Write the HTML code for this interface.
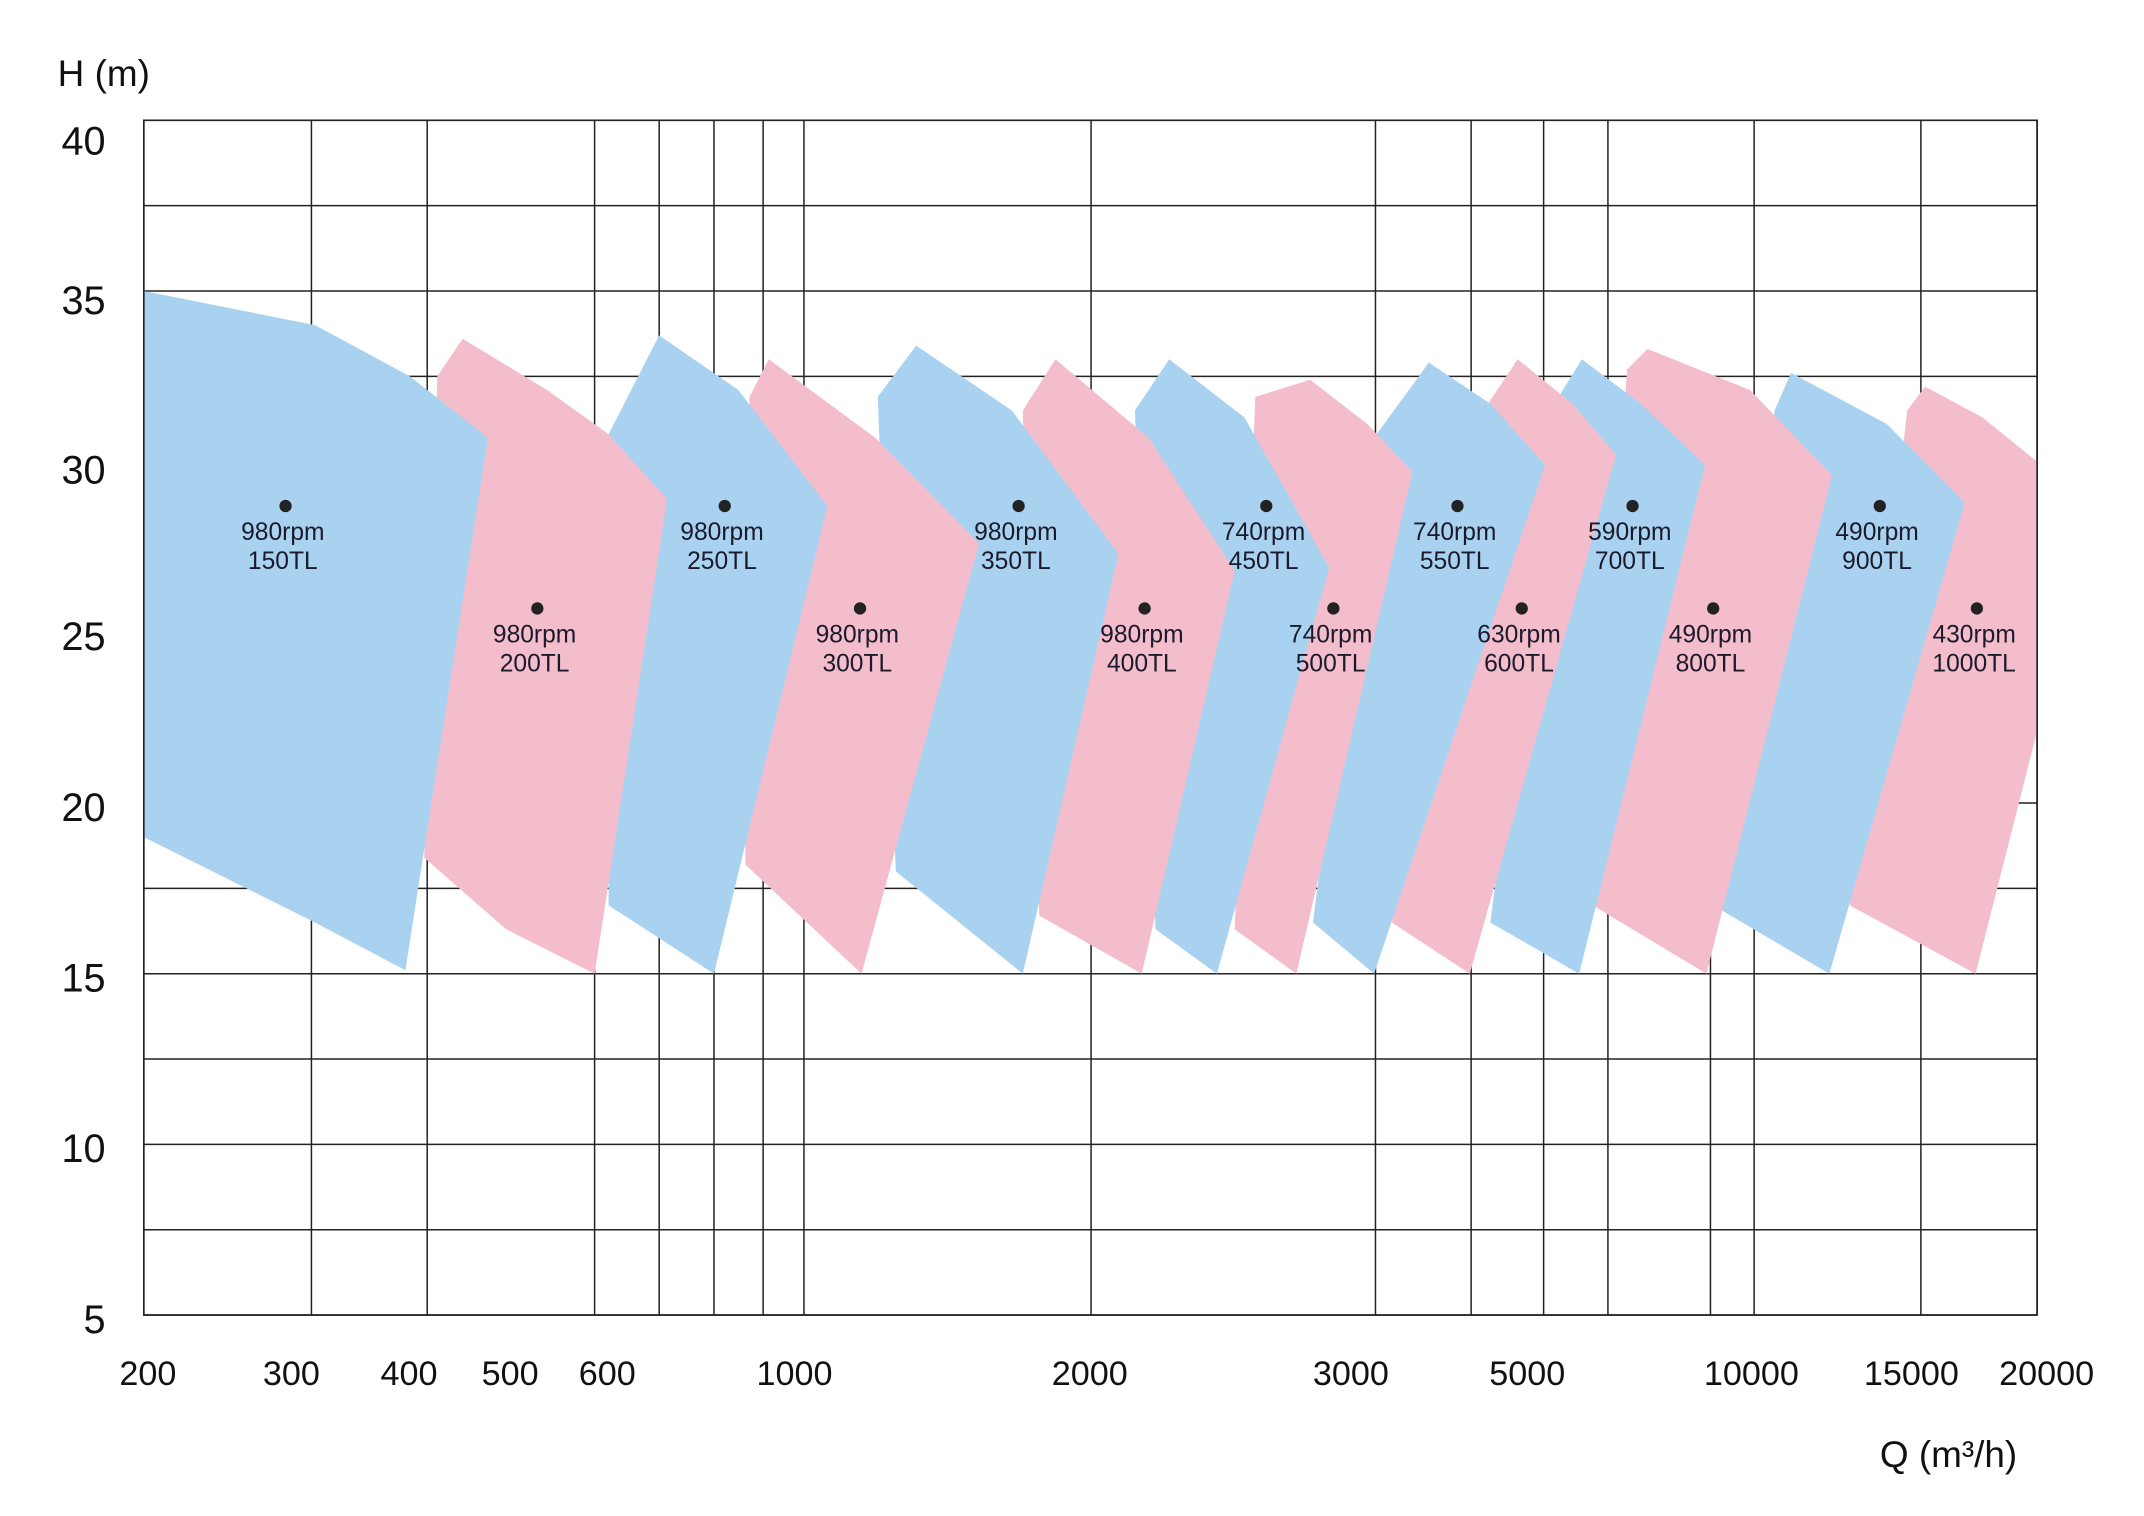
<!DOCTYPE html>
<html><head><meta charset="utf-8"><style>
html,body{margin:0;padding:0;background:#fff;}
svg{display:block;font-family:"Liberation Sans",sans-serif;}
</style></head><body>
<svg id="chart" width="2144" height="1516" viewBox="0 0 1568 1109" xmlns="http://www.w3.org/2000/svg">
<rect width="1568" height="1109" fill="#fff"/>
<g id="grid"></g>
<g id="shapes"></g>
<g id="labels"></g>
<g id="axes"></g>
<text x="42" y="63" font-size="27" fill="#111">H (m)</text>
<text x="1375" y="1073" font-size="27" fill="#111">Q (m³/h)</text>
</svg>
<script>
const NS="http://www.w3.org/2000/svg";
// x-axis knots (non-uniform axis)
const knotQ=[200,300,400,500,600,1000,2000,3000,5000,10000,15000,20000];
const knotPx=[105,213,299,373,444,581,797,988,1117,1281,1398,1490];
const yTicks=[5,10,15,20,25,30,35,40];
const xTickLabels=[200,300,400,500,600,1000,2000,3000,5000,10000,15000,20000];
const hGridValues=[5,7.5,10,12.5,15,17.5,20,22.5,25,27.5,30,32.5,35,37.5,40];
const vGridQ=[200,317,418,587,711,828,933,1032,2005,3279,4364,5366,6800,10085,15380,20000];
const partialGridQ=[9087];

const names=["150TL","200TL","250TL","300TL","350TL","400TL","450TL","500TL","550TL","600TL","700TL","800TL","900TL","1000TL"];
const rpms=["980rpm","980rpm","980rpm","980rpm","980rpm","980rpm","740rpm","740rpm","740rpm","630rpm","590rpm","490rpm","490rpm","430rpm"];
const kinds=["blue","pink","blue","pink","blue","pink","blue","pink","blue","pink","blue","pink","blue","pink"];
const labelQ=[296,528,851,1222,1759,2210,2676,2933,4209,4938,7349,9148,14014,17606];
const labelH=[28.7,25.7,28.7,25.7,28.7,25.7,28.7,25.7,28.7,25.7,28.7,25.7,28.7,25.7];
const shapeQ=[
 [200,320,401,478,397,320,200],
 [453,538,603,728,587,496,415,428],
 [711,880,1111,828,603,603],
 [945,1273,1625,1227,895,904],
 [1412,1736,2110,1773,1343,1282],
 [1884,2225,2555,2199,1829,1773],
 [2304,2592,2917,2487,2252,2173],
 [2844,3186,3698,2791,2555,2634],
 [3884,4581,5397,3264,2855,3264],
 [4891,6007,6983,4349,3465,4504],
 [6220,7532,8965,6159,4581,5702],
 [7684,9970,12519,8996,6464,7227],
 [11238,14231,17118,12434,9148,10726],
 [15543,17824,20000,20000,17552,13074,14872]
];
const shapeH=[
 [35.0,34.0,32.5,30.7,15.1,16.5,19.0],
 [33.6,32.1,30.8,28.9,15.0,16.3,18.4,32.5],
 [33.7,32.1,28.7,15.0,17.0,30.8],
 [33.0,30.7,27.6,15.0,18.2,31.9],
 [33.4,31.5,27.3,15.0,18.0,31.9],
 [33.0,30.7,26.8,15.0,16.7,31.5],
 [33.0,31.3,26.9,15.0,16.3,31.5],
 [32.4,31.1,29.7,15.0,16.3,31.9],
 [32.9,31.7,29.9,15.0,16.5,30.7],
 [33.0,31.7,30.2,15.0,16.5,31.5],
 [33.0,31.7,29.9,15.0,16.5,31.9],
 [33.3,32.1,29.6,15.0,17.0,32.7],
 [32.6,31.1,28.8,15.0,17.0,31.5],
 [32.2,31.3,30.0,22.1,15.0,17.0,31.5]
];
const colors={blue:"#a9d2f1",pink:"#f4bdcc"};

function x(q){
  for(let i=0;i<knotQ.length-1;i++){
    if(q<=knotQ[i+1]||i===knotQ.length-2){
      return knotPx[i]+(q-knotQ[i])/(knotQ[i+1]-knotQ[i])*(knotPx[i+1]-knotPx[i]);
    }
  }
}
function y(h){return 962-(h-5)*(874/35);}
function mk(tag,attrs,parent){const e=document.createElementNS(NS,tag);for(const k in attrs)e.setAttribute(k,attrs[k]);parent.appendChild(e);return e;}

const grid=document.getElementById('grid');
hGridValues.forEach(h=>{
  const l=mk('line',{x1:x(200),x2:x(20000),y1:y(h),y2:y(h),stroke:"#222","stroke-width":1.1},grid);
  
  
});
vGridQ.forEach(q=>{
  const l=mk('line',{x1:x(q),x2:x(q),y1:y(40),y2:y(5),stroke:"#222","stroke-width":1.1},grid);
  
  
});
partialGridQ.forEach(q=>{
  const l=mk('line',{x1:x(q),x2:x(q),y1:y(17),y2:y(5),stroke:"#222","stroke-width":1.1},grid);
  
  
});

const shapes=document.getElementById('shapes');
for(let i=shapeQ.length-1;i>=0;i--){
  const pts=shapeQ[i].map((q,j)=>x(q).toFixed(1)+","+y(shapeH[i][j]).toFixed(1)).join(" ");
  const p=mk('polygon',{points:pts,fill:colors[kinds[i]]},shapes);
  
  
}

const labels=document.getElementById('labels');
labelQ.forEach((q,i)=>{
  const cx=x(q),cy=y(labelH[i]);
  const d=mk('circle',{cx:cx,cy:cy,r:4.5,fill:"#222"},labels);
  
  
  const t1=mk('text',{x:cx-2,y:cy+25,"font-size":18,"text-anchor":"middle",fill:"#1a1a2a"},labels);
  t1.textContent=rpms[i];
  
  
  const t2=mk('text',{x:cx-2,y:cy+46,"font-size":18,"text-anchor":"middle",fill:"#1a1a2a"},labels);
  t2.textContent=names[i];
  
  
});

const axes=document.getElementById('axes');
const frame=mk('rect',{x:x(200),y:y(40),width:x(20000)-x(200),height:y(5)-y(40),fill:"none",stroke:"#222","stroke-width":1.2},axes);


yTicks.forEach(v=>{
  const off = v===40?15:(v===35?7:(v===30?6:3));
  const t=mk('text',{x:77,y:y(v)+off+10,"font-size":29,"text-anchor":"end",fill:"#111"},axes);
  t.textContent=v;
  
  
});
xTickLabels.forEach(v=>{
  const t=mk('text',{x:x(v)+(v===200?3:(v===20000?7:0)),y:1013,"font-size":25,"text-anchor":"middle",fill:"#111"},axes);
  t.textContent=v;
  
  
});
</script>
</body></html>
